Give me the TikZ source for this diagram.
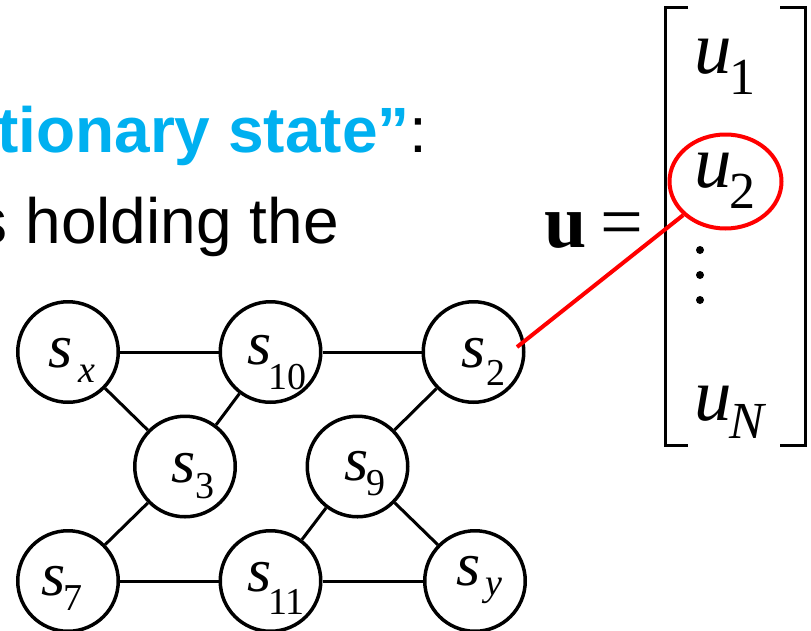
\documentclass[tikz,border=0pt]{standalone}
\usepackage{fontspec}
\setmainfont{Liberation Serif}
\newfontfamily\arialf{Liberation Sans}
\usetikzlibrary{shapes.geometric}
\definecolor{skyc}{RGB}{0,176,240}
\definecolor{redc}{RGB}{255,0,0}
\newcommand\Sv[3]{{\itshape s}\kern#1pt\lower#2pt\hbox{\fontsize{38}{38}\selectfont #3}}
\newcommand\Uv[2]{{\itshape u}\kern-2pt\lower#1pt\hbox{\fontsize{52}{52}\selectfont #2}}
\tikzset{
  st/.style={circle, draw, line width=3.5pt, minimum size=100.5pt, inner sep=0pt},
  edge/.style={line width=3pt},
  lbl/.style={anchor=base west, inner sep=0pt, font=\fontsize{62}{62}\selectfont},
  ulbl/.style={anchor=base west, inner sep=0pt, font=\fontsize{75}{75}\selectfont},
  txt/.style={inner sep=0pt, font=\arialf\fontsize{64}{64}\selectfont},
  brk/.style={line width=3pt}
}
\begin{document}
\begin{tikzpicture}[x=1pt,y=-1pt]
\useasboundingbox (0,0) rectangle (811,630);
% text
\node[txt, anchor=base west] (t1) at (-3,152) {\textcolor{skyc}{\bfseries tionary state”}:};
\node[txt, anchor=base east] (t2) at (339,243) {s holding the};
% graph nodes
\node[st] (sx) at (68,352) {};
\node[st] (s10) at (270.5,352) {};
\node[st] (s2) at (473.5,352) {};
\node[st] (s3) at (185,466.5) {};
\node[st] (s9) at (357.5,466.5) {};
\node[st] (s7) at (68,581) {};
\node[st] (s11) at (270.5,581) {};
\node[st] (sy) at (475,581) {};
% labels
\node[lbl] (lsx) at (48,367) {\Sv{6}{15}{\itshape x}};
\node[lbl] (ls10) at (247,364) {\Sv{-3}{25}{10}};
\node[lbl] (ls2) at (461,367) {\Sv{1}{18}{2}};
\node[lbl] (ls3) at (171,482) {\Sv{0}{16}{3}};
\node[lbl] (ls9) at (344,480) {\Sv{-2}{15}{9}};
\node[lbl] (ls7) at (41,595) {\Sv{-2}{15}{7}};
\node[lbl] (ls11) at (247,591) {\Sv{-3}{23}{11}};
\node[lbl] (lsy) at (456,585) {\Sv{5}{10}{\itshape y}};
% edges
\draw[edge] (sx) -- (s10);
\draw[edge] (s10) -- (s2);
\draw[edge] (sx) -- (s3);
\draw[edge] (s10) -- (s3);
\draw[edge] (s3) -- (s7);
\draw[edge] (s7) -- (s11);
\draw[edge] (s11) -- (sy);
\draw[edge] (s9) -- (s11);
\draw[edge] (s9) -- (sy);
\draw[edge] (s2) -- (s9);
% vector
\node[anchor=base west, inner sep=0pt, font=\fontsize{76}{76}\selectfont\bfseries] (ub) at (544,247) {u};
\node[anchor=base west, inner sep=0pt, font=\fontsize{76}{76}\selectfont] (eq) at (600,247) {=};
\draw[brk] (688,7) -| (665,445) -- (688,445);
\draw[brk] (780,7) -| (805,445) -- (780,445);
\node[ulbl] (lu1) at (694,73) {\Uv{21}{1}};
\node[ulbl] (lu2) at (694,187) {\Uv{21}{2}};
\node[ulbl] (luN) at (694,420) {\Uv{18}{\itshape N}};
\fill (700,250) circle (4pt);
\fill (700,275) circle (4pt);
\fill (700,300) circle (4pt);
% red highlight
\node[ellipse, draw=redc, line width=4pt, minimum width=112pt, minimum height=94pt, inner sep=0pt] (e2) at (725.5,181.5) {};
\coordinate (p) at ([shift={(43.5,-5)}]s2.center);
\draw[redc, line width=4pt] (p) -- (e2);
\end{tikzpicture}
\end{document}
